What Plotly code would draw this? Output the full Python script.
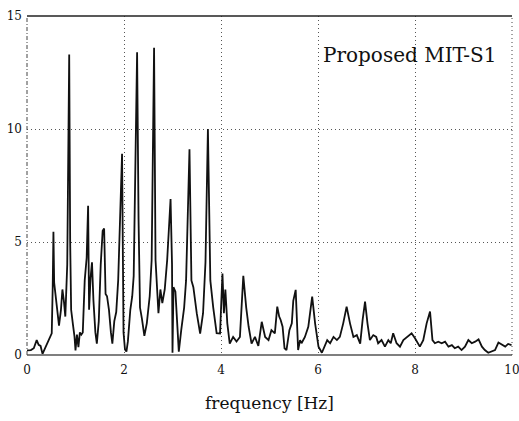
import plotly.graph_objects as go

# Spectrum samples: frequency [Hz] and amplitude
freq = [0.00, 0.08, 0.14, 0.20, 0.24, 0.28, 0.32, 0.36, 0.40, 0.47, 0.51, 0.53, 0.545, 0.56, 0.58,
        0.60, 0.63, 0.66, 0.70, 0.73, 0.76, 0.79, 0.83, 0.87, 0.89, 0.91, 0.95, 0.98, 1.00, 1.03,
        1.06, 1.09, 1.12, 1.15, 1.19, 1.23, 1.26, 1.28, 1.31, 1.34, 1.37, 1.41, 1.44, 1.48, 1.52,
        1.56, 1.59, 1.62, 1.65, 1.69, 1.73, 1.76, 1.80, 1.84, 1.88, 1.92, 1.96, 1.99, 2.02, 2.05,
        2.08, 2.13, 2.17, 2.20, 2.24, 2.27, 2.30, 2.33, 2.37, 2.42, 2.47, 2.53, 2.57, 2.62, 2.65,
        2.71, 2.75, 2.79, 2.84, 2.89, 2.96, 2.99, 3.00, 3.02, 3.06, 3.10, 3.13, 3.18, 3.24, 3.28,
        3.35, 3.39, 3.43, 3.50, 3.57, 3.63, 3.68, 3.73, 3.78, 3.84, 3.91, 3.98, 4.03, 4.06, 4.09,
        4.13, 4.18, 4.25, 4.32, 4.39, 4.46, 4.52, 4.57, 4.63, 4.70, 4.77, 4.84, 4.91, 4.98, 5.04,
        5.11, 5.16, 5.20, 5.23, 5.27, 5.31, 5.35, 5.41, 5.46, 5.49, 5.54, 5.59, 5.63, 5.66, 5.73,
        5.80, 5.84, 5.88, 5.94, 6.01, 6.08, 6.14, 6.19, 6.25, 6.32, 6.39, 6.45, 6.52, 6.59, 6.66,
        6.73, 6.80, 6.87, 6.92, 6.97, 7.02, 7.07, 7.14, 7.20, 7.24, 7.31, 7.38, 7.45, 7.50, 7.55,
        7.62, 7.69, 7.76, 7.83, 7.93, 8.00, 8.10, 8.17, 8.24, 8.31, 8.36, 8.41, 8.48, 8.55, 8.62,
        8.69, 8.76, 8.82, 8.89, 8.96, 9.03, 9.10, 9.17, 9.24, 9.31, 9.38, 9.44, 9.51, 9.58, 9.65,
        9.72, 9.79, 9.86, 9.92, 9.99]

amplitude = [0.20, 0.22, 0.30, 0.66, 0.45, 0.40, 0.05, 0.25, 0.40, 0.80, 0.96, 3.0, 5.45, 3.2, 2.8,
             2.6, 1.85, 1.3, 2.0, 2.9, 2.4, 1.7, 4.0, 13.3, 5.0, 2.0, 1.3, 0.8, 0.2, 0.9,
             0.35, 1.0, 0.9, 1.0, 3.3, 4.3, 6.6, 2.0, 3.4, 4.1, 2.4, 1.0, 0.5, 1.5, 4.0,
             5.5, 5.6, 2.7, 2.6, 2.0, 1.0, 0.5, 1.5, 1.9, 3.3, 6.0, 8.9, 1.0, 0.25, 0.15,
             0.6, 2.0, 2.6, 3.5, 9.0, 13.4, 6.0, 2.1, 1.6, 0.85, 1.4, 2.6, 4.2, 13.6, 4.2,
             1.85, 2.9, 2.3, 2.9, 4.2, 6.9, 4.0, 0.1, 3.0, 2.8, 1.1, 0.15, 1.1, 2.1, 3.3,
             9.1, 3.3, 3.0, 1.85, 0.95, 1.85, 4.1, 10.0, 3.3, 2.1, 0.97, 0.95, 3.6, 1.85, 2.9,
             1.4, 0.5, 0.8, 0.6, 0.8, 3.5, 2.1, 1.25, 0.5, 0.8, 0.4, 1.47, 0.8, 0.66, 1.1,
             0.96, 2.14, 1.7, 1.55, 1.25, 0.3, 0.22, 1.1, 1.4, 2.4, 2.88, 0.22, 0.66, 0.52, 0.8,
             1.25, 1.84, 2.58, 1.4, 0.37, 0.1, 0.37, 0.66, 0.52, 0.8, 0.66, 0.8, 1.4, 2.14, 1.4,
             0.8, 0.88, 0.5, 1.55, 2.36, 1.4, 0.66, 0.88, 0.8, 0.52, 0.66, 0.37, 0.66, 0.52, 0.96,
             0.52, 0.37, 0.66, 0.8, 0.96, 0.74, 0.37, 0.66, 1.4, 1.92, 0.66, 0.52, 0.59, 0.52, 0.59,
             0.37, 0.44, 0.3, 0.37, 0.22, 0.37, 0.66, 0.52, 0.59, 0.69, 0.37, 0.22, 0.1, 0.15, 0.22,
             0.55, 0.44, 0.37, 0.49, 0.44]

x_ticks = [0, 2, 4, 6, 8, 10]
y_ticks = [0, 5, 10, 15]
label_font = "DejaVu Serif"
grid_dash = "1px,3px"

fig = go.Figure()
fig.add_trace(go.Scatter(
    x=freq, y=amplitude, mode="lines",
    line=dict(color="#111111", width=1.8),
    showlegend=False, hoverinfo="skip",
))

fig.update_layout(
    width=519, height=421,
    margin=dict(l=27, r=7, t=16, b=66, autoexpand=False),
    paper_bgcolor="white", plot_bgcolor="white",
    xaxis=dict(
        range=[0, 10], tickvals=x_ticks, ticktext=[str(v) for v in x_ticks],
        showgrid=True, gridcolor="#555555", griddash=grid_dash, gridwidth=1,
        zeroline=False, showline=False, ticks="", ticklabelstandoff=6,
        ticklabeloverflow="allow", automargin=False,
        tickfont=dict(family=label_font, size=12, color="#111111"),
        title=dict(text="frequency [Hz]", standoff=21,
                   font=dict(family=label_font, size=17, color="#111111")),
    ),
    yaxis=dict(
        range=[0, 15], tickvals=y_ticks, ticktext=[str(v) for v in y_ticks],
        showgrid=True, gridcolor="#555555", griddash=grid_dash, gridwidth=1,
        zeroline=False, showline=False, ticks="", ticklabelstandoff=4,
        ticklabeloverflow="allow", automargin=False,
        tickfont=dict(family=label_font, size=12, color="#111111"),
    ),
    shapes=[
        dict(type="line", xref="paper", yref="paper", x0=0, x1=1, y0=1, y1=1,
             line=dict(color="#222222", width=1.5)),
        dict(type="line", xref="paper", yref="paper", x0=0, x1=1, y0=0, y1=0,
             line=dict(color="#555555", width=1.5)),
        dict(type="line", xref="paper", yref="paper", x0=0, x1=0, y0=0, y1=1,
             line=dict(color="#444444", width=1, dash="4px,2px,1px,2px")),
        dict(type="line", xref="paper", yref="paper", x0=1, x1=1, y0=0, y1=1,
             line=dict(color="#444444", width=1, dash=grid_dash)),
    ],
    annotations=[
        dict(text="Proposed MIT-S1", xref="paper", yref="paper",
             x=0.973, y=0.885, xanchor="right", yanchor="middle", showarrow=False,
             font=dict(family=label_font, size=20, color="#111111")),
    ],
)

fig.write_html("out.html")
